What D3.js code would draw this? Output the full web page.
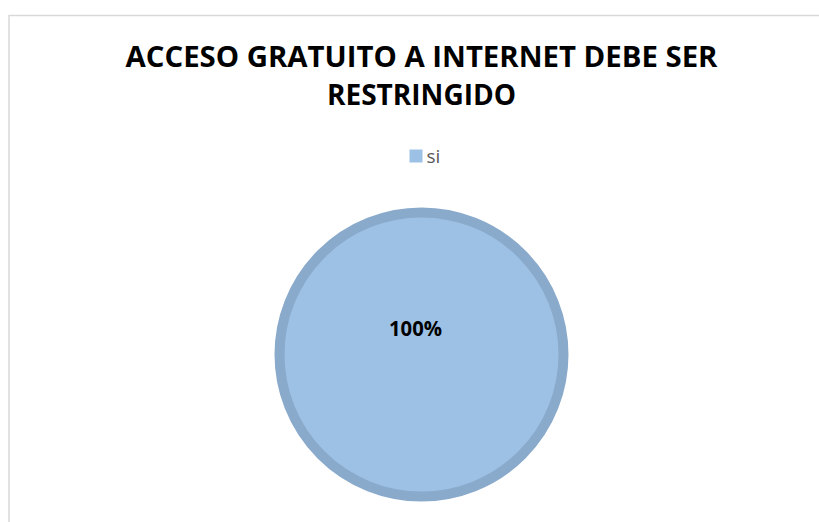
<!DOCTYPE html>
<html>
<head>
<meta charset="utf-8">
<script src="https://cdn.jsdelivr.net/npm/d3@7"></script>
<style>
  html, body { margin: 0; padding: 0; background: #fff; }
  svg { display: block; }
</style>
</head>
<body>
<svg id="chart" width="819" height="522"></svg>
<script>
// Chart data
const titleLines = ["ACCESO GRATUITO A INTERNET DEBE SER", "RESTRINGIDO"];
const categories = ["si"];
const values = [100];
const colors = ["#9DC1E4"];
const strokeColors = ["#8AAACB"];

const svg = d3.select("#chart");
const W = 819, H = 522;

// Chart area frame: top and left edges
svg.append("path")
  .attr("d", `M9,${H} V15.5 H${W}`)
  .attr("fill", "none")
  .attr("stroke", "#D9D9D9")
  .attr("stroke-width", 1.5);

// Title
const title = svg.append("g");
const titleY = [67, 105];
const titleWidth = [592, 189];
titleLines.forEach((t, i) => {
  title.append("text")
    .attr("x", 421.5).attr("y", titleY[i])
    .attr("text-anchor", "middle")
    .attr("font-family", "'Open Sans', 'DejaVu Sans', sans-serif")
    .attr("font-weight", "bold")
    .attr("font-size", 28.5)
    .attr("fill", "#000")
    .attr("textLength", titleWidth[i])
    .attr("lengthAdjust", "spacingAndGlyphs")
    .text(t);
});

// Legend
const legend = svg.append("g").attr("transform", "translate(409.5,149.5)");
categories.forEach((c, i) => {
  legend.append("rect")
    .attr("x", 0).attr("y", 0)
    .attr("width", 13).attr("height", 13)
    .attr("fill", colors[i]);
  legend.append("text")
    .attr("x", 17).attr("y", 13)
    .attr("font-family", "'Open Sans', 'DejaVu Sans', sans-serif")
    .attr("font-size", 19)
    .attr("fill", "#595959")
    .text(c);
});

// Pie
const cx = 421.5, cy = 354.5, r = 142;
const pie = d3.pie().sort(null).value(d => d)(values);
const arc = d3.arc().innerRadius(0).outerRadius(r);
const g = svg.append("g").attr("transform", `translate(${cx},${cy})`);

g.selectAll("path.slice")
  .data(pie)
  .join("path")
  .attr("class", "slice")
  .attr("d", arc)
  .attr("fill", (d, i) => colors[i])
  .attr("stroke", (d, i) => strokeColors[i])
  .attr("stroke-width", 10);

// Data label
const total = d3.sum(values);
g.selectAll("text.label")
  .data(pie)
  .join("text")
  .attr("class", "label")
  .attr("x", -6).attr("y", -18.5)
  .attr("text-anchor", "middle")
  .attr("font-family", "'Open Sans', 'DejaVu Sans', sans-serif")
  .attr("font-weight", "bold")
  .attr("font-size", 20.5)
  .attr("fill", "#000")
  .attr("textLength", 53)
  .attr("lengthAdjust", "spacingAndGlyphs")
  .text(d => Math.round(d.data / total * 100) + "%");
</script>
</body>
</html>
